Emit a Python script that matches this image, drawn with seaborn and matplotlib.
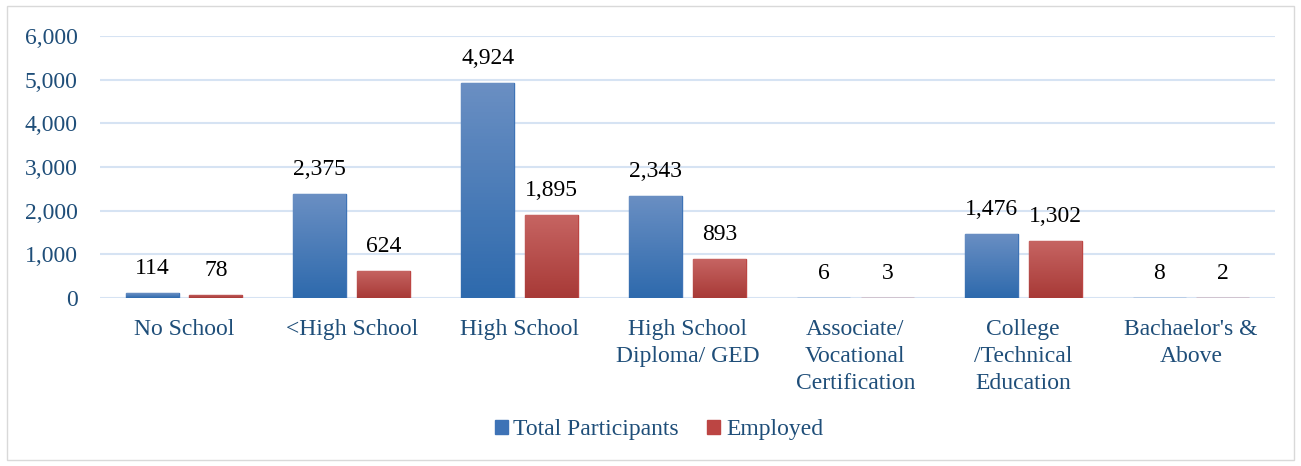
import numpy as np
import pandas as pd
import matplotlib
matplotlib.use("Agg")
import matplotlib.pyplot as plt
import seaborn as sns
from matplotlib.colors import LinearSegmentedColormap
from matplotlib.patches import Rectangle

categories = ["No School", "<High School", "High School", "High School\nDiploma/ GED",
              "Associate/\nVocational\nCertification", "College\n/Technical\nEducation",
              "Bachaelor's &\nAbove"]
total_participants = [114, 2375, 4924, 2343, 6, 1476, 8]
employed = [78, 624, 1895, 893, 3, 1302, 2]
series_names = ["Total Participants", "Employed"]

df = pd.DataFrame({
    "category": categories * 2,
    "value": total_participants + employed,
    "series": [series_names[0]] * len(categories) + [series_names[1]] * len(categories),
})

sns.set_theme(style="white")
plt.rcParams["font.family"] = ["Liberation Serif", "DejaVu Serif"]

label_color = "#1F4E79"
grid_color = "#D6E3F3"
colors = {"Total Participants": "#3E73B6", "Employed": "#BC4543"}
grads = {
    "Total Participants": ("#6A8FC3", "#2E6AAD"),
    "Employed": ("#C66462", "#A83A37"),
}
fs = 17

fig = plt.figure(figsize=(13.01, 4.66), dpi=100)
ax = fig.add_axes([100 / 1301, 1 - 298 / 466, 1175 / 1301, 262 / 466])

sns.barplot(data=df, x="category", y="value", hue="series", palette=colors,
            width=0.76, gap=0.17, ax=ax, legend=False, zorder=3)

ax.set_ylim(0, 6000)
ax.set_xlim(-0.5, len(categories) - 0.5)
ax.set_yticks(range(0, 6001, 1000))
ax.yaxis.set_major_formatter(matplotlib.ticker.FuncFormatter(lambda v, p: f"{int(v):,}"))
ax.grid(axis="y", color=grid_color, linewidth=1.5, zorder=0)
ax.set_axisbelow(True)
for s in ax.spines.values():
    s.set_visible(False)
ax.set_xlabel("")
ax.set_ylabel("")
ax.tick_params(axis="y", colors=label_color, labelsize=fs, pad=16, length=0)
ax.tick_params(axis="x", colors=label_color, labelsize=fs, pad=15, length=0)
for t in ax.get_xticklabels():
    t.set_linespacing(1.38)
    t.set_verticalalignment("top")

# gradient fills and value labels
for container, name in zip(ax.containers, series_names):
    cmap = LinearSegmentedColormap.from_list(name, [grads[name][1], grads[name][0]])
    for bar in container:
        bar.set_edgecolor(colors[name])
        bar.set_linewidth(1)
        x0, y0 = bar.get_x(), bar.get_y()
        w, h = bar.get_width(), bar.get_height()
        img = ax.imshow(np.linspace(0, 1, 64).reshape(-1, 1), cmap=cmap, aspect="auto",
                        extent=[x0, x0 + w, y0, y0 + max(h, 1)], origin="lower", zorder=4)
        img.set_clip_path(bar)
        ax.annotate(f"{int(h):,}", (x0 + w / 2, h), xytext=(0, 10), textcoords="offset points",
                    ha="center", va="bottom", fontsize=fs, color="black")
ax.set_xlim(-0.5, len(categories) - 0.5)
ax.set_ylim(0, 6000)

handles = [Rectangle((0, 0), 1, 1, color=colors[n]) for n in series_names]
fig.legend(handles, series_names, loc="center", bbox_to_anchor=(659 / 1301, 1 - 430 / 466),
           ncol=2, frameon=False, fontsize=fs, handlelength=0.55, handleheight=0.55,
           handletextpad=0.25, columnspacing=1.2, labelcolor=label_color)

fig.patches.append(Rectangle((7 / 1301, 6 / 466), 1287 / 1301, 454 / 466, transform=fig.transFigure,
                             fill=False, edgecolor="#D9D9D9", linewidth=1))

fig.savefig("out.png", dpi=100)
